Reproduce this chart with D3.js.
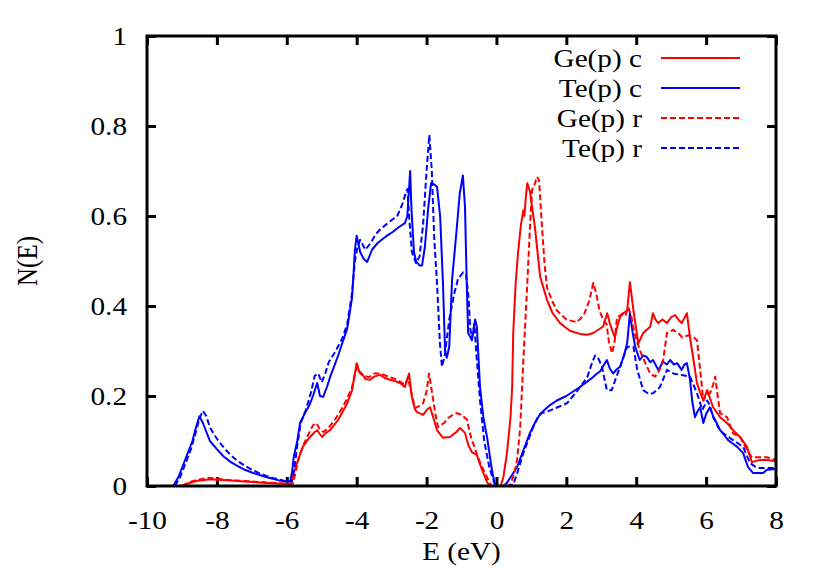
<!DOCTYPE html>
<html>
<head>
<meta charset="utf-8">
<script src="https://cdn.jsdelivr.net/npm/d3@7"></script>
<style>
html,body{margin:0;padding:0;background:#fff;}
svg text{font-family:"Liberation Serif","Times New Roman",serif;fill:#000;}
</style>
</head>
<body>
<svg id="chart" width="830" height="581"></svg>
<script>
// ---- data (E in eV, N(E)) ----
const xTicks = [-10,-8,-6,-4,-2,0,2,4,6,8];
const yTicks = [0,0.2,0.4,0.6,0.8,1];
const seriesNames = ["Ge(p) c","Te(p) c","Ge(p) r","Te(p) r"];
const seriesColors = ["#ff0000","#0000ff","#ff0000","#0000ff"];
const seriesDashed = [false,false,true,true];

const geC = [[-9.0,0],[-8.8,0.006],[-8.6,0.011],[-8.4,0.013],[-8.2,0.015],[-8.0,0.014],[-7.6,0.012],[-7.2,0.01],[-6.8,0.008],[-6.4,0.006],[-6.0,0.005],[-5.88,0.005],[-5.8,0.03],[-5.71,0.05],[-5.62,0.07],[-5.54,0.087],[-5.43,0.1],[-5.33,0.109],[-5.2,0.12],[-5.13,0.124],[-5.05,0.115],[-4.99,0.109],[-4.88,0.118],[-4.76,0.124],[-4.65,0.135],[-4.53,0.147],[-4.4,0.165],[-4.27,0.184],[-4.13,0.213],[-4.05,0.25],[-4.0,0.273],[-3.93,0.255],[-3.85,0.25],[-3.75,0.238],[-3.62,0.236],[-3.5,0.243],[-3.33,0.247],[-3.2,0.24],[-3.05,0.236],[-2.9,0.233],[-2.76,0.229],[-2.62,0.22],[-2.5,0.25],[-2.42,0.198],[-2.33,0.17],[-2.27,0.164],[-2.1,0.158],[-1.98,0.17],[-1.9,0.175],[-1.8,0.15],[-1.7,0.124],[-1.53,0.107],[-1.33,0.109],[-1.15,0.12],[-1.04,0.129],[-0.9,0.118],[-0.8,0.09],[-0.7,0.075],[-0.56,0.069],[-0.48,0.05],[-0.41,0.036],[-0.27,0.009],[-0.19,0],[0.12,0],[0.2,0.02],[0.3,0.073],[0.4,0.15],[0.45,0.22],[0.48,0.34],[0.55,0.45],[0.62,0.52],[0.7,0.58],[0.77,0.613],[0.8,0.6],[0.84,0.64],[0.88,0.673],[0.96,0.655],[1.02,0.62],[1.1,0.576],[1.25,0.465],[1.45,0.413],[1.6,0.385],[1.82,0.362],[2.1,0.345],[2.39,0.338],[2.6,0.336],[2.77,0.34],[2.97,0.35],[3.05,0.354],[3.17,0.384],[3.25,0.36],[3.34,0.34],[3.39,0.33],[3.46,0.355],[3.54,0.376],[3.65,0.385],[3.74,0.39],[3.82,0.453],[3.92,0.39],[4.06,0.317],[4.2,0.34],[4.4,0.354],[4.48,0.384],[4.55,0.37],[4.63,0.362],[4.75,0.37],[4.88,0.362],[5.0,0.375],[5.11,0.38],[5.2,0.37],[5.3,0.362],[5.45,0.384],[5.54,0.33],[5.64,0.28],[5.74,0.228],[5.82,0.21],[5.92,0.19],[6.03,0.213],[6.2,0.175],[6.4,0.153],[6.6,0.14],[6.77,0.124],[6.97,0.109],[7.17,0.087],[7.31,0.053],[7.54,0.058],[7.75,0.058],[8.0,0.055]];

const teC = [[-9.25,0],[-9.1,0.02],[-8.95,0.05],[-8.8,0.08],[-8.7,0.1],[-8.6,0.13],[-8.5,0.155],[-8.4,0.14],[-8.3,0.12],[-8.2,0.1],[-8.0,0.082],[-7.8,0.065],[-7.6,0.053],[-7.4,0.044],[-7.2,0.036],[-7.0,0.03],[-6.8,0.025],[-6.6,0.02],[-6.4,0.016],[-6.2,0.012],[-6.0,0.01],[-5.9,0.012],[-5.85,0.03],[-5.8,0.065],[-5.7,0.1],[-5.62,0.14],[-5.48,0.162],[-5.35,0.18],[-5.25,0.2],[-5.13,0.229],[-5.05,0.2],[-4.96,0.198],[-4.85,0.22],[-4.76,0.242],[-4.53,0.29],[-4.4,0.32],[-4.27,0.35],[-4.13,0.42],[-4.05,0.525],[-4.0,0.556],[-3.9,0.52],[-3.8,0.505],[-3.7,0.498],[-3.56,0.525],[-3.4,0.54],[-3.24,0.55],[-3.1,0.558],[-2.96,0.565],[-2.8,0.575],[-2.62,0.584],[-2.55,0.6],[-2.47,0.70],[-2.43,0.613],[-2.36,0.52],[-2.3,0.5],[-2.2,0.49],[-2.13,0.49],[-2.05,0.53],[-1.95,0.62],[-1.87,0.673],[-1.78,0.67],[-1.7,0.665],[-1.61,0.598],[-1.53,0.45],[-1.47,0.3],[-1.42,0.285],[-1.35,0.31],[-1.27,0.458],[-1.15,0.56],[-1.05,0.65],[-0.96,0.69],[-0.9,0.62],[-0.85,0.45],[-0.81,0.34],[-0.7,0.324],[-0.61,0.37],[-0.56,0.354],[-0.47,0.22],[-0.37,0.15],[-0.27,0.109],[-0.13,0.036],[-0.04,0],[0.2,0],[0.3,0.007],[0.45,0.025],[0.59,0.042],[0.75,0.075],[0.96,0.118],[1.1,0.14],[1.25,0.16],[1.5,0.178],[1.73,0.19],[2.0,0.2],[2.39,0.22],[2.7,0.238],[2.88,0.25],[2.97,0.255],[3.08,0.27],[3.16,0.28],[3.25,0.26],[3.34,0.25],[3.45,0.26],[3.54,0.265],[3.65,0.29],[3.74,0.317],[3.82,0.384],[3.9,0.34],[3.97,0.31],[4.1,0.28],[4.2,0.29],[4.3,0.287],[4.4,0.275],[4.48,0.28],[4.55,0.27],[4.63,0.258],[4.77,0.276],[4.88,0.27],[4.97,0.28],[5.08,0.27],[5.17,0.273],[5.3,0.258],[5.38,0.27],[5.45,0.273],[5.54,0.236],[5.6,0.19],[5.68,0.153],[5.75,0.165],[5.83,0.175],[5.92,0.14],[6.0,0.16],[6.11,0.175],[6.2,0.155],[6.26,0.147],[6.4,0.124],[6.5,0.115],[6.63,0.102],[6.75,0.095],[6.89,0.087],[7.06,0.073],[7.2,0.042],[7.34,0.029],[7.5,0.029],[7.63,0.029],[7.74,0.036],[8.0,0.038]];

const geR = [[-9.0,0],[-8.8,0.008],[-8.6,0.013],[-8.4,0.016],[-8.2,0.018],[-8.0,0.016],[-7.6,0.013],[-7.2,0.011],[-6.8,0.009],[-6.4,0.007],[-6.0,0.005],[-5.82,0.005],[-5.75,0.03],[-5.68,0.055],[-5.6,0.075],[-5.5,0.095],[-5.38,0.115],[-5.25,0.135],[-5.15,0.14],[-5.05,0.125],[-4.95,0.12],[-4.8,0.13],[-4.6,0.15],[-4.4,0.175],[-4.27,0.195],[-4.13,0.22],[-4.05,0.25],[-3.98,0.265],[-3.9,0.25],[-3.8,0.245],[-3.65,0.242],[-3.5,0.25],[-3.33,0.25],[-3.1,0.243],[-2.9,0.238],[-2.76,0.232],[-2.62,0.225],[-2.53,0.24],[-2.46,0.215],[-2.33,0.173],[-2.2,0.178],[-2.1,0.184],[-2.0,0.21],[-1.93,0.25],[-1.84,0.206],[-1.75,0.16],[-1.67,0.131],[-1.5,0.14],[-1.38,0.151],[-1.25,0.158],[-1.13,0.162],[-1.0,0.158],[-0.84,0.147],[-0.77,0.12],[-0.7,0.102],[-0.6,0.08],[-0.53,0.064],[-0.43,0.045],[-0.33,0.029],[-0.2,0.008],[-0.13,0],[0.3,0],[0.39,0.002],[0.5,0.025],[0.59,0.058],[0.68,0.13],[0.77,0.28],[0.87,0.43],[0.96,0.576],[1.02,0.658],[1.1,0.672],[1.16,0.687],[1.22,0.68],[1.3,0.58],[1.38,0.49],[1.45,0.44],[1.6,0.41],[1.73,0.39],[2.0,0.37],[2.3,0.364],[2.5,0.38],[2.65,0.41],[2.77,0.451],[2.85,0.43],[2.95,0.39],[3.05,0.37],[3.15,0.36],[3.22,0.32],[3.31,0.295],[3.38,0.32],[3.45,0.375],[3.55,0.38],[3.62,0.384],[3.7,0.38],[3.77,0.398],[3.85,0.38],[3.95,0.34],[4.1,0.302],[4.25,0.275],[4.4,0.25],[4.54,0.243],[4.65,0.255],[4.77,0.28],[4.88,0.34],[5.06,0.347],[5.2,0.34],[5.32,0.33],[5.49,0.335],[5.65,0.33],[5.74,0.324],[5.83,0.258],[5.92,0.19],[6.0,0.2],[6.11,0.206],[6.2,0.225],[6.26,0.243],[6.33,0.2],[6.4,0.162],[6.6,0.153],[6.77,0.117],[6.97,0.109],[7.1,0.09],[7.17,0.08],[7.31,0.064],[7.5,0.064],[7.74,0.064],[8.0,0.058]];

const teR = [[-9.2,0],[-9.05,0.02],[-8.9,0.05],[-8.75,0.08],[-8.6,0.12],[-8.5,0.15],[-8.4,0.167],[-8.3,0.155],[-8.2,0.13],[-8.0,0.105],[-7.8,0.085],[-7.6,0.068],[-7.4,0.055],[-7.2,0.045],[-7.0,0.036],[-6.8,0.029],[-6.6,0.023],[-6.4,0.018],[-6.2,0.014],[-6.0,0.01],[-5.85,0.01],[-5.78,0.04],[-5.7,0.09],[-5.6,0.14],[-5.45,0.17],[-5.3,0.21],[-5.2,0.245],[-5.1,0.25],[-5.0,0.23],[-4.9,0.25],[-4.8,0.275],[-4.6,0.3],[-4.4,0.33],[-4.27,0.36],[-4.13,0.43],[-4.05,0.5],[-3.98,0.53],[-3.9,0.547],[-3.75,0.525],[-3.6,0.54],[-3.45,0.56],[-3.33,0.57],[-3.1,0.585],[-2.84,0.60],[-2.7,0.625],[-2.6,0.65],[-2.55,0.66],[-2.5,0.6],[-2.42,0.52],[-2.3,0.495],[-2.2,0.51],[-2.1,0.58],[-2.0,0.7],[-1.92,0.78],[-1.85,0.7],[-1.78,0.55],[-1.7,0.45],[-1.62,0.32],[-1.56,0.265],[-1.48,0.29],[-1.35,0.37],[-1.2,0.43],[-1.1,0.46],[-0.95,0.475],[-0.87,0.47],[-0.8,0.42],[-0.75,0.35],[-0.7,0.33],[-0.63,0.36],[-0.58,0.3],[-0.47,0.19],[-0.35,0.1],[-0.2,0.04],[-0.05,0.005],[0.05,0],[0.35,0],[0.48,0.003],[0.6,0.03],[0.77,0.073],[0.9,0.1],[1.05,0.131],[1.2,0.155],[1.3,0.162],[1.45,0.165],[1.75,0.175],[2.02,0.184],[2.3,0.21],[2.6,0.242],[2.72,0.27],[2.82,0.29],[2.92,0.283],[3.02,0.265],[3.1,0.235],[3.16,0.213],[3.3,0.213],[3.42,0.24],[3.54,0.265],[3.65,0.29],[3.74,0.309],[3.82,0.31],[3.92,0.309],[4.03,0.258],[4.2,0.213],[4.35,0.205],[4.48,0.206],[4.68,0.22],[4.88,0.258],[5.06,0.25],[5.2,0.248],[5.34,0.246],[5.54,0.243],[5.74,0.206],[5.89,0.169],[6.03,0.19],[6.1,0.18],[6.2,0.153],[6.35,0.13],[6.49,0.117],[6.77,0.102],[7.06,0.087],[7.15,0.07],[7.26,0.051],[7.4,0.043],[7.54,0.04],[8.0,0.04]];

const seriesData = [geC, teC, geR, teR];

// ---- layout ----
const svg = d3.select("#chart");
const L = 147, R = 776, T = 36, B = 486;
const SX = 1.17; // horizontal glyph stretch of the reference
const FS = 25;
const x = d3.scaleLinear().domain([-10, 8]).range([L, R]);
const y = d3.scaleLinear().domain([0, 1]).range([B, T]);
const fmt = d => String(+d.toFixed(1));

// axes (ticks pointing inward)
function styleAxis(g){
  g.select(".domain").remove();
  g.selectAll(".tick line").attr("stroke","#000").attr("stroke-width",3);
  g.selectAll("text").attr("font-size",FS).attr("font-family","Liberation Serif, serif").attr("fill","#000");
}
const gx = svg.append("g").attr("transform",`translate(0,${B})`)
  .call(d3.axisBottom(x).tickValues(xTicks).tickSize(-9).tickPadding(25).tickFormat(fmt));
styleAxis(gx);
gx.selectAll("text").attr("dy","0.71em").attr("transform",`scale(${SX},1)`);

const gy = svg.append("g").attr("transform",`translate(${L},0)`)
  .call(d3.axisLeft(y).tickValues(yTicks).tickSize(-9).tickPadding(20).tickFormat(fmt));
styleAxis(gy);
gy.selectAll("text").attr("x",-20/SX).attr("transform",`scale(${SX},1)`);

const gt = svg.append("g").attr("transform",`translate(0,${T})`)
  .call(d3.axisTop(x).tickValues(xTicks).tickSize(-9).tickFormat(""));
styleAxis(gt);
const gr = svg.append("g").attr("transform",`translate(${R},0)`)
  .call(d3.axisRight(y).tickValues(yTicks).tickSize(-9).tickFormat(""));
styleAxis(gr);

// clip
svg.append("clipPath").attr("id","clip").append("rect")
  .attr("x",L).attr("y",T).attr("width",R-L).attr("height",B-T);

// lines
const line = d3.line().x(d => x(d[0])).y(d => y(d[1]));
const plot = svg.append("g").attr("clip-path","url(#clip)");
seriesData.forEach((data,i) => {
  plot.append("path").datum(data)
    .attr("d", line)
    .attr("fill","none")
    .attr("stroke", seriesColors[i])
    .attr("stroke-width", 2)
    .attr("stroke-linejoin","round")
    .attr("stroke-dasharray", seriesDashed[i] ? "6,3" : null);
});

// frame
svg.append("rect").attr("x",L).attr("y",T).attr("width",R-L).attr("height",B-T)
  .attr("fill","none").attr("stroke","#000").attr("stroke-width",3);

// legend
const legY0 = 58, legDY = 30;
seriesNames.forEach((name,i) => {
  const yy = legY0 + i*legDY;
  svg.append("text")
    .attr("transform",`translate(642,${yy}) scale(${SX},1)`)
    .attr("text-anchor","end").attr("dy","0.35em")
    .attr("font-size",FS).text(name);
  svg.append("line").attr("x1",661).attr("x2",740).attr("y1",yy).attr("y2",yy)
    .attr("stroke",seriesColors[i]).attr("stroke-width",2)
    .attr("stroke-dasharray", seriesDashed[i] ? "6,3" : null);
});

// axis titles
svg.append("text").attr("transform",`translate(${(L+R)/2},560) scale(${SX},1)`)
  .attr("text-anchor","middle").attr("font-size",FS).text("E (eV)");
svg.append("text").attr("transform",`translate(27,${(T+B)/2}) scale(${SX},1) rotate(-90)`)
  .attr("text-anchor","middle").attr("dy","0.35em").attr("font-size",FS).text("N(E)");
</script>
</body>
</html>
